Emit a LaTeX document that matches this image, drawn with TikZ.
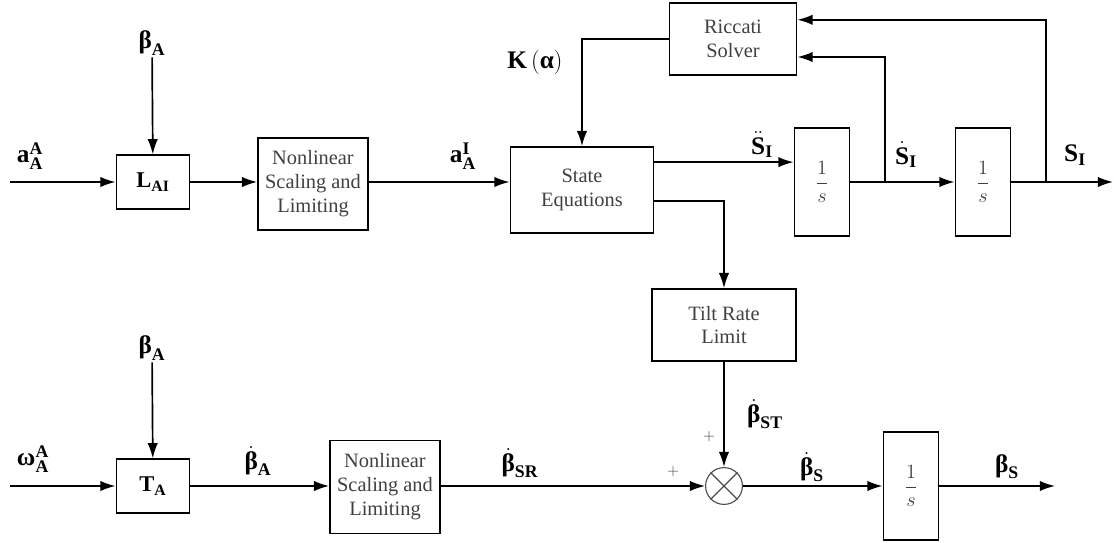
\documentclass[tikz,border=0pt]{standalone}
\usepackage{fontspec}
\setmainfont{Liberation Serif}
\usepackage{amsmath}
\usetikzlibrary{arrows.meta}

\newcommand{\bb}[1]{\textbf{#1}}

\begin{document}
\begin{tikzpicture}[x=0.025cm, y=-0.025cm, >={Latex[length=3.8mm,width=2.6mm]},
        every node/.style={font=\fontsize{14.5}{17}\selectfont},
        block/.style={draw, line width=1.2pt, text=black!75, align=center, inner sep=0pt},
        intbox/.style={block, minimum width=1.38cm, minimum height=2.7cm, font=\fontsize{14}{16}\selectfont},
        gainbox/.style={block, text=black, minimum width=1.83cm, minimum height=1.34cm, font=\fontsize{16}{18}\selectfont},
        lbl/.style={font=\fontsize{18}{20}\selectfont, inner sep=1pt},
        sgn/.style={font=\fontsize{11}{13}\selectfont, text=black!70, inner sep=0pt},
        every path/.style={line width=1.2pt}]
        \useasboundingbox (0,0) rectangle (1117,543);

        % upper row
        \node[gainbox] (lai) at (153,182) {$\bb{L}_{\bb{AI}}$};
        \node[block, minimum width=2.75cm, minimum height=2.3cm] (nl1) at (313,184) {Nonlinear\\Scaling and\\Limiting};
        \node[block, minimum width=3.58cm, minimum height=2.15cm] (state) at (582,190) {State\\Equations};
        \node[block, minimum width=3.18cm, minimum height=1.8cm] (ric) at (733,39) {Riccati\\Solver};
        \node[intbox] (int1) at (822,182) {$\dfrac{1}{s}$};
        \node[intbox] (int2) at (983,182) {$\dfrac{1}{s}$};
        \node[block, minimum width=3.6cm, minimum height=1.8cm] (tilt) at (724,325) {Tilt Rate\\Limit};

        % lower row
        \node[gainbox] (ta) at (153,486) {$\bb{T}_{\bb{A}}$};
        \node[block, minimum width=2.75cm, minimum height=2.33cm] (nl2) at (385,487) {Nonlinear\\Scaling and\\Limiting};
        \node[circle, draw=black!70, line width=0.8pt, minimum size=0.92cm, inner sep=0pt] (sum) at (724,486) {};
        \draw[black!70, line width=0.8pt] (sum.45) -- (sum.225) (sum.135) -- (sum.315);
        \node[intbox] (int3) at (911,486) {$\dfrac{1}{s}$};

        % signal labels
        \node[lbl] (bta1) at (152,43) {$\bb{β}_{\bb{A}}$};
        \node[lbl] (bta2) at (152,348) {$\bb{β}_{\bb{A}}$};
        \node[lbl] at (30,156) {$\bb{a}^{\bb{A}}_{\bb{A}}$};
        \node[lbl] at (463,156) {$\bb{a}^{\bb{I}}_{\bb{A}}$};
        \node[lbl] at (535,62) {$\bb{K}\left(\bb{α}\right)$};
        \node[lbl] at (762,145) {$\ddot{\bb{S}}_{\bb{I}}$};
        \node[lbl] at (906,155) {$\dot{\bb{S}}_{\bb{I}}$};
        \node[lbl] at (1075,155) {$\bb{S}_{\bb{I}}$};
        \node[lbl] at (33,459) {$\bb{ω}^{\bb{A}}_{\bb{A}}$};
        \node[lbl] at (258,461) {$\dot{\bb{β}}_{\bb{A}}$};
        \node[lbl] at (520,463) {$\dot{\bb{β}}_{\bb{SR}}$};
        \node[lbl] at (765,414) {$\dot{\bb{β}}_{\bb{ST}}$};
        \node[lbl] at (812,467) {$\dot{\bb{β}}_{\bb{S}}$};
        \node[lbl] at (1007,467) {$\bb{β}_{\bb{S}}$};
        \node[sgn] at (709,437) {$+$};
        \node[sgn] at (673,472) {$+$};

        % free ends and branch points
        \coordinate (in1) at (10,182);
        \coordinate (in2) at (10,486);
        \coordinate (out1) at (1113,182);
        \coordinate (out2) at (1055,486);
        \coordinate (b1) at (885,182);
        \coordinate (b2) at (1046,182);
        \coordinate (sdd) at ([yshift=-0.4cm]state.north east);
        \coordinate (sto) at ([yshift=0.825cm]state.south east);
        \coordinate (r1) at ([yshift=-0.45cm]ric.east);
        \coordinate (r2) at ([yshift=0.48cm]ric.east);

        \draw[->] (in1) -- (lai);
        \draw[->] (bta1) -- (lai);
        \draw[->] (lai) -- (lai -| nl1.west);
        \draw[->] (nl1.east |- lai) -- (lai -| state.west);
        \draw[->] (ric.west) -| (state);
        \draw[->] (sdd) -- (sdd -| int1.west);
        \draw[->] (sto) -| (tilt);
        \draw[->] (int1) -- (int2);
        \draw[->] (int2) -- (out1);
        \draw[->] (b1) |- (r1);
        \draw[->] (b2) |- (r2);

        \draw[->] (in2) -- (ta);
        \draw[->] (bta2) -- (ta);
        \draw[->] (ta) -- (ta -| nl2.west);
        \draw[->] (nl2.east |- ta) -- (sum);
        \draw[->] (tilt) -- (sum);
        \draw[->] (sum) -- (int3);
        \draw[->] (int3) -- (out2);
    \end{tikzpicture}
\end{document}
